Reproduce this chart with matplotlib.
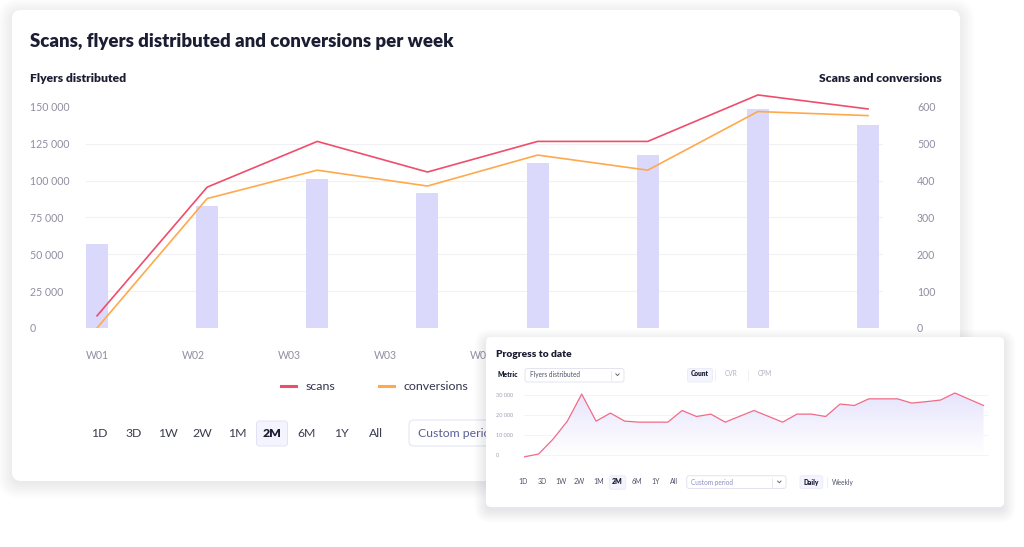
import numpy as np
import matplotlib
matplotlib.use('Agg')
import matplotlib.pyplot as plt
from matplotlib.patches import FancyBboxPatch

plt.rcParams['font.family'] = ['Lato', 'DejaVu Sans']

# Main chart data (per week); only the first week labels are visible, the rest sit under the inset
week_labels = ['W01', 'W02', 'W03', 'W03', 'W04']
flyers = [57000, 83000, 101000, 91500, 112000, 117000, 148500, 137500]
scans = [33, 382, 506, 423, 506, 506, 632, 594]
conversions = [0, 351, 428, 385, 469, 428, 587, 576]
flyer_ticks = [0, 25000, 50000, 75000, 100000, 125000, 150000]
scan_ticks = [0, 100, 200, 300, 400, 500, 600]
main_ranges = ['1D', '3D', '1W', '2W', '1M', '2M', '6M', '1Y', 'All']

# Inset "Progress to date" data (daily)
progress = [-800, 650, 8000, 17000, 30500, 17000, 21000, 17000, 16500, 16500,
            16500, 22300, 19300, 20500, 16500, 19400, 22300, 19400, 16500, 20500,
            20500, 19300, 25500, 24800, 28100, 28100, 28100, 26000, 26700, 27500,
            31000, 27900, 24800]
progress_ticks = [0, 10000, 20000, 30000]
inset_ranges = main_ranges

W, H = 1024, 547
DARK = '#1b1d33'
GRAY = '#8e8ea0'
GRID = '#f1f1f5'


def fmt(v):
    return f"{v:,}".replace(',', ' ')


def card(ax, x0, y0, x1, y1, r, z, shadow=0.007, dy=3, n=10):
    # soft shadow made of growing translucent boxes
    for i in range(n):
        g = i * 1.6
        ax.add_patch(FancyBboxPatch((x0 - g, y0 - g + dy), x1 - x0 + 2 * g, y1 - y0 + 2 * g,
                                    boxstyle=f"round,pad=0,rounding_size={r + g}",
                                    fc='#20204a', ec='none', alpha=shadow, zorder=z))
    ax.add_patch(FancyBboxPatch((x0, y0), x1 - x0, y1 - y0,
                                boxstyle=f"round,pad=0,rounding_size={r}",
                                fc='white', ec='none', zorder=z + 0.1))


def box(ax, x0, y0, x1, y1, fc, ec, z, r=3):
    ax.add_patch(FancyBboxPatch((x0, y0), x1 - x0, y1 - y0,
                                boxstyle=f"round,pad=0,rounding_size={r}",
                                fc=fc, ec=ec, lw=0.7, zorder=z))


fig = plt.figure(figsize=(W / 100, H / 100), dpi=100)
fig.patch.set_facecolor('white')

# background layer in pixel coords
bg = fig.add_axes([0, 0, 1, 1], zorder=0)
bg.set_xlim(0, W)
bg.set_ylim(H, 0)
bg.axis('off')

card(bg, 12, 10, 960, 481, 9, 1)
bg.text(30, 42, 'Scans, flyers distributed and conversions per week', fontsize=13.4,
        fontweight='heavy', color=DARK, va='center', zorder=3)
bg.text(30, 79, 'Flyers distributed', fontsize=8.7, fontweight='heavy', color=DARK,
        va='center', zorder=3)
bg.text(942, 79, 'Scans and conversions', fontsize=8.7, fontweight='heavy', color=DARK,
        va='center', ha='right', zorder=3)

# period buttons
for i, lab in enumerate(main_ranges):
    cx = 99 + 34.6 * i
    if lab == '2M':
        box(bg, cx - 15.5, 421, cx + 15.5, 446, '#f4f4fe', '#e2e2f6', 3)
    bg.text(cx, 433.5, lab, fontsize=8.8, color=DARK if lab == '2M' else '#3b3d50',
            fontweight='heavy' if lab == '2M' else 'normal', ha='center', va='center', zorder=4)
box(bg, 409, 420, 600, 446, 'white', '#e2e2f2', 3, r=5)
bg.text(418, 433.5, 'Custom period', fontsize=8.8, color='#5b5f95', va='center', zorder=4)

# main chart
ax1 = fig.add_axes([86 / W, 1 - 328 / H, (883 - 86) / W, (328 - 92) / H], zorder=2)
ax1.patch.set_alpha(0)
weeks = np.arange(len(flyers))
ax1.bar(weeks, flyers, width=0.2, color='#dad9fc', zorder=2)
ax1.set_xlim(-0.1, 7.136)
ax1.set_ylim(0, 160000)
ax1.set_yticks(flyer_ticks, [fmt(v) for v in flyer_ticks])
for v in flyer_ticks[:-1]:
    ax1.axhline(v, color=GRID, lw=0.8, zorder=1)
ax1.set_xticks(np.arange(len(week_labels)) * 0.872, week_labels)
ax1.tick_params(axis='y', length=0, pad=40.3, labelsize=7.6, labelcolor=GRAY)
ax1.tick_params(axis='x', length=0, pad=16, labelsize=7.6, labelcolor=GRAY)
for t in ax1.get_yticklabels():
    t.set_ha('left')
for s in ax1.spines.values():
    s.set_visible(False)

ax2 = ax1.twinx()
ax2.set_ylim(0, 640)
l1, = ax2.plot(weeks, scans, color='#ef4d6c', lw=1.2, label='scans')
l2, = ax2.plot(weeks, conversions, color='#ffa94d', lw=1.2, label='conversions')
ax2.set_yticks(scan_ticks, [str(v) for v in scan_ticks])
ax2.tick_params(axis='y', length=0, pad=24.5, labelsize=7.6, labelcolor=GRAY)
for s in ax2.spines.values():
    s.set_visible(False)
leg = ax2.legend(handles=[l1, l2], loc='center left', bbox_to_anchor=(281 / W, 1 - 387 / H),
                 bbox_transform=fig.transFigure, ncol=2, frameon=False, fontsize=8.9,
                 handlelength=1.2, handletextpad=0.75, columnspacing=3.6,
                 borderpad=0, borderaxespad=0, labelcolor='#33354a')
for ln in leg.get_lines():
    ln.set_linewidth(2.2)

# inset card layer
top = fig.add_axes([0, 0, 1, 1], zorder=5)
top.set_xlim(0, W)
top.set_ylim(H, 0)
top.axis('off')
top.patch.set_alpha(0)
card(top, 486, 337, 1004, 507, 5, 1, shadow=0.01, dy=4, n=8)

top.text(496, 354.5, 'Progress to date', fontsize=7.4, fontweight='heavy', color=DARK,
         va='center', zorder=3)
top.text(497, 374.5, 'Metric', fontsize=4.9, fontweight='heavy', color=DARK, va='center', zorder=3)
box(top, 525, 368.5, 624, 382, 'white', '#e4e4f0', 3, r=2.5)
top.text(529.5, 374, 'Flyers distributed', fontsize=4.7, color='#50526a', va='center', zorder=4)
top.plot([610.7, 610.7], [370.5, 380], color='#e4e4f0', lw=0.6, zorder=4)
top.plot([615.8, 617.5, 619.2], [373.8, 375.6, 373.8], color='#50526a', lw=0.6, zorder=4)

box(top, 687.5, 368.5, 712.5, 382, '#f4f4fe', '#ececf8', 3, r=2)
top.text(700, 374, 'Count', fontsize=4.7, fontweight='heavy', color=DARK, ha='center',
         va='center', zorder=4)
top.text(731, 374, 'CVR', fontsize=4.7, color='#b0b2c2', ha='center', va='center', zorder=4)
top.text(765, 374, 'CPM', fontsize=4.7, color='#b0b2c2', ha='center', va='center', zorder=4)
for sx in [715, 748.3]:
    top.plot([sx, sx], [370, 380], color='#ececf4', lw=0.6, zorder=4)

for i, lab in enumerate(inset_ranges):
    cx = 523 + 18.9 * i
    if lab == '2M':
        box(top, cx - 8.2, 475.7, cx + 8.2, 489.3, '#f4f4fe', '#ececf8', 3, r=2)
    top.text(cx, 482, lab, fontsize=5, color=DARK if lab == '2M' else '#50526a',
             fontweight='heavy' if lab == '2M' else 'normal', ha='center', va='center', zorder=4)
box(top, 686.7, 475.7, 786, 488.5, 'white', '#e4e4f0', 3, r=2.5)
top.text(691.3, 482, 'Custom period', fontsize=4.7, color='#8a8fc2', va='center', zorder=4)
top.plot([772, 772], [477.5, 486.5], color='#e4e4f0', lw=0.6, zorder=4)
top.plot([777.6, 779.3, 781], [481, 482.8, 481], color='#50526a', lw=0.6, zorder=4)
box(top, 800, 475.7, 822.7, 488.5, '#f4f4fe', '#ececf8', 3, r=2)
top.text(811.3, 482, 'Daily', fontsize=4.7, fontweight='heavy', color=DARK, ha='center',
         va='center', zorder=4)
top.plot([826.7, 826.7], [477, 487], color='#ececf4', lw=0.6, zorder=4)
top.text(843, 482, 'Weekly', fontsize=4.7, color='#50526a', ha='center', va='center', zorder=4)

# inset chart
ax3 = fig.add_axes([524 / W, 1 - 458.3 / H, (989 - 524) / W, (458.3 - 390) / H], zorder=6)
ax3.patch.set_alpha(0)
days = np.arange(len(progress))
for v in progress_ticks:
    ax3.axhline(v, color='#f2f2f6', lw=0.6, zorder=1)
fill = ax3.fill_between(days, progress, 0, color='none')
grad = np.linspace(0, 1, 100).reshape(-1, 1)
cmap = matplotlib.colors.LinearSegmentedColormap.from_list('lav', ['#ffffff', '#e6e4fc'])
img = ax3.imshow(grad, extent=[0, days[-1], 0, max(progress)], origin='lower',
                 aspect='auto', cmap=cmap, zorder=2)
img.set_clip_path(fill.get_paths()[0], transform=ax3.transData)
ax3.plot(days, progress, color='#f26b86', lw=0.9, zorder=3)
ax3.set_xlim(-0.02, 32.38)
ax3.set_ylim(-1500, 32500)
ax3.set_xticks([])
ax3.set_yticks(progress_ticks, [fmt(v) for v in progress_ticks])
ax3.tick_params(axis='y', length=0, pad=20, labelsize=4, labelcolor='#a0a0b2')
for t in ax3.get_yticklabels():
    t.set_ha('left')
for s in ax3.spines.values():
    s.set_visible(False)

fig.savefig('out.png', dpi=100)
